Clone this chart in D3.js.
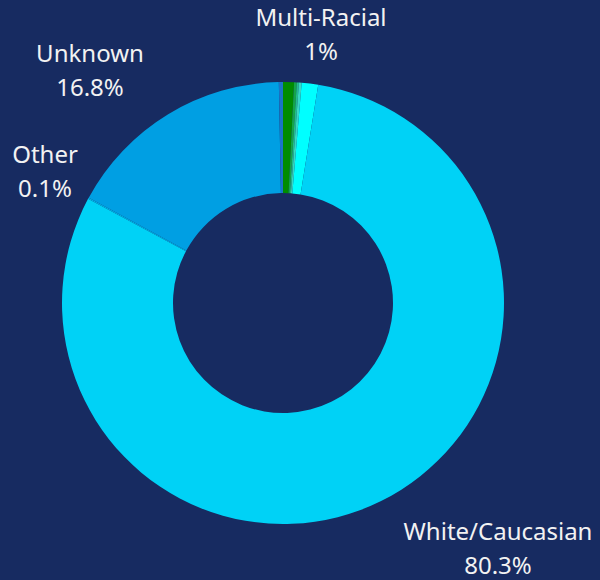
<!DOCTYPE html>
<html lang="en">
<head>
    <script src="https://d3js.org/d3.v7.min.js"></script>
    <style>
        body { margin: 0; background: #172b61; }
    </style>
</head>
<body>
<script>
    // slices, clockwise from 12 o'clock
    var categories = ["Black/African American", "Hispanic/Latino", "Asian", "Native American",
                      "Multi-Racial", "White/Caucasian", "Other", "Unknown", "Declined"];
    var values = [0.8, 0.2, 0.15, 0.2, 1.2, 80.3, 0.1, 16.8, 0.3];
    var colors = ["#008c00", "#14a54a", "#22bf8c", "#38d8c4",
                  "#00ffff", "#00d2f6", "#00b6ec", "#009fe3", "#1b74c6"];
    var labelText = ["Multi-Racial|1%", "White/Caucasian|80.3%", "Other|0.1%", "Unknown|16.8%"];

    var width = 600, height = 580,
        cx = 283, cy = 303,
        outerR = 221, innerR = 110;

    // where each label sits (text centre, first line baseline)
    var labelPos = {
        "Multi-Racial": [321, 26],
        "White/Caucasian": [498, 540],
        "Other": [45, 163],
        "Unknown": [90, 62]
    };

    var data = categories.map(function (c, i) { return { name: c, value: values[i] }; });

    var svg = d3.select("body").append("svg")
        .attr("width", width)
        .attr("height", height);

    var pie = d3.pie().sort(null).value(function (d) { return d.value; });
    var arc = d3.arc().innerRadius(innerR).outerRadius(outerR);

    var g = svg.append("g").attr("transform", "translate(" + cx + "," + cy + ")");

    g.selectAll("path")
        .data(pie(data))
        .enter().append("path")
        .attr("d", arc)
        .attr("fill", function (d, i) { return colors[i]; });

    labelText.forEach(function (t) {
        var parts = t.split("|");
        var p = labelPos[parts[0]];
        var txt = svg.append("text")
            .attr("x", p[0])
            .attr("y", p[1])
            .attr("text-anchor", "middle")
            .attr("fill", "#f2f2f2")
            .style("font-family", "'Noto Sans', sans-serif")
            .style("font-size", "24px");
        txt.append("tspan").attr("x", p[0]).text(parts[0]);
        txt.append("tspan").attr("x", p[0]).attr("dy", 34).text(parts[1]);
    });
</script>
</body>
</html>
